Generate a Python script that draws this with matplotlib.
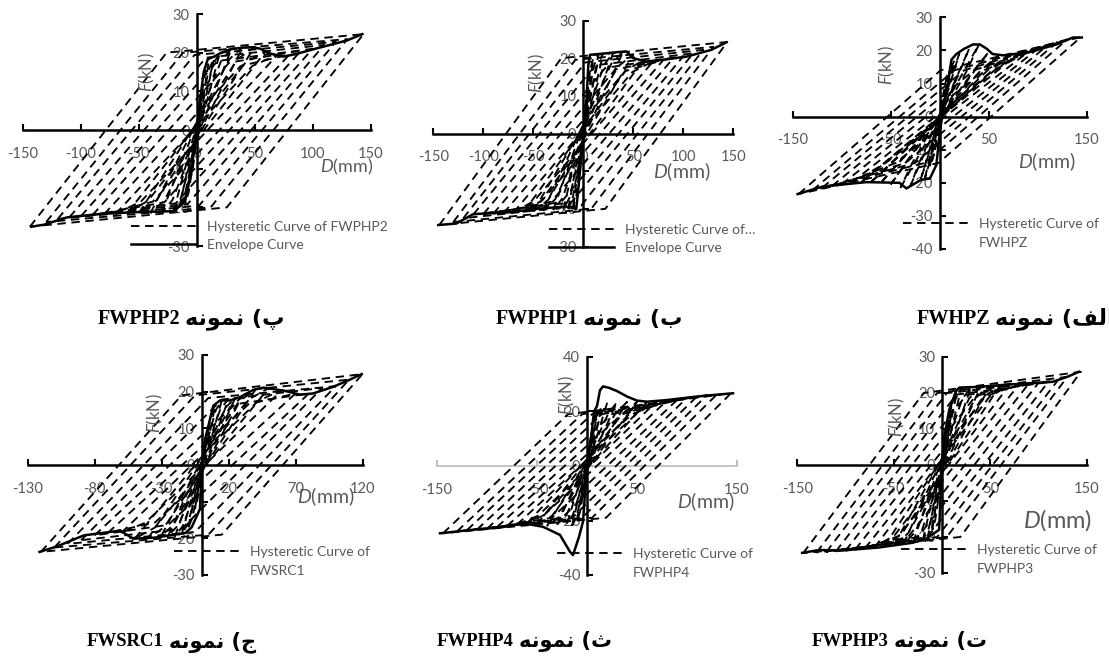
import matplotlib
matplotlib.use("Agg")
import matplotlib.pyplot as plt
from matplotlib.lines import Line2D

plt.rcParams['font.family'] = ['Lato', 'DejaVu Sans']
plt.rcParams['mathtext.fontset'] = 'custom'
plt.rcParams['mathtext.it'] = 'Lato:italic'
plt.rcParams['mathtext.rm'] = 'Lato'
plt.rcParams['axes.unicode_minus'] = False

W, H = 1109, 658
GRAY = "#595959"

# ---- datos (D en mm, F en kN) ----
# FWPHP2
fwphp2_env_d = [-143, -132, -112, -83, -50, -20, -12, -8, -4, 0, 3, 6, 9.5, 15, 20, 29, 40, 49, 55, 61, 67, 75, 85, 101, 115, 130, 143]
fwphp2_env_f = [-25, -24.5, -22.6, -21.7, -21.2, -21, -19, -16, -8, 0, 8, 15, 18.3, 19, 19.8, 20.9, 21.3, 21.4, 21, 20, 19.5, 19, 19.6, 20.9, 22, 23.2, 24.8]
fwphp2_amp = [5, 10, 15, 20, 30, 40, 50, 60, 70, 80, 90, 100, 110, 120, 130, 144]
fwphp2_fpos = [10, 17, 18.5, 20, 21, 21.5, 21.5, 20.5, 19.5, 19.5, 20.5, 21, 22, 22.8, 23.5, 24.8]
fwphp2_fneg = [12, 19, 20, 21, 21.3, 21.5, 21.5, 21.5, 21.7, 21.8, 22, 22.3, 22.6, 23, 23.8, 25]

# FWPHP1
fwphp1_env_d = [-145, -127, -110, -73, -47, -17, -7, -4, 0, 3, 5, 6.7, 20, 30, 43, 50, 63, 80, 103, 128, 143]
fwphp1_env_f = [-24.3, -23.9, -21.4, -20.9, -20, -19.4, -20, -12, 0, 8, 18, 20.9, 21.2, 21.5, 21.8, 20, 19.1, 19.6, 20.4, 22.2, 24.2]
fwphp1_amp = [5, 10, 15, 20, 30, 40, 50, 60, 70, 80, 90, 100, 110, 120, 130, 144]
fwphp1_fpos = [12, 20, 21, 21.3, 21.5, 21.8, 21, 19.5, 19.2, 19.5, 20, 20.5, 21.3, 22.2, 23, 24.3]
fwphp1_fneg = [12, 19.5, 20, 20.2, 20.3, 20.5, 20.7, 21, 21, 21.2, 21.3, 21.4, 21.5, 22.5, 23.5, 24.3]

# FWHPZ
fwhpz_env_d = [-145, -119, -75, -41, -34, -19, -10, -3.4, 0, 4, 8.5, 12, 17, 25, 34, 41, 48, 54, 65, 92, 119, 136, 145]
fwhpz_env_f = [-23.4, -21.1, -19.8, -20, -21.7, -19.1, -18.7, -14.6, -5, 3, 10, 17.2, 18.9, 20.5, 21.8, 21.8, 20.5, 18.9, 18.5, 19.5, 21.8, 23.9, 23.9]
fwhpz_amp = [5, 10, 15, 20, 30, 40, 50, 60, 70, 80, 90, 100, 110, 120, 130, 144]
fwhpz_fpos = [8, 14, 17, 19, 20.5, 21.8, 19.5, 18.5, 18.5, 19, 19.5, 20.5, 21.5, 22.5, 23.3, 24]
fwhpz_fneg = [10, 15, 18.5, 19.5, 21, 21.5, 20.5, 20, 19.8, 19.8, 20, 20.5, 21, 21.5, 22.3, 23.4]

# FWSRC1
fwsrc1_env_d = [-121, -108, -88, -61, -51, -35, -23.6, -12, -7.5, -1.3, 0, 2.5, 8.7, 13.7, 21, 28.6, 38.5, 46, 61, 73.4, 83, 98, 110.7, 119.4]
fwsrc1_env_f = [-23.7, -22.2, -19.2, -17.9, -20.1, -19.8, -19.2, -18.5, -17, -12, 0, 7, 16.2, 17.6, 17.6, 18.5, 20.5, 21.1, 20.3, 19.2, 19.5, 21.3, 23.3, 24.8]
fwsrc1_amp = [5, 10, 15, 20, 25, 30, 40, 50, 60, 70, 80, 90, 100, 110, 120]
fwsrc1_fpos = [9, 16, 17.6, 18, 18.3, 18.5, 20.5, 21, 20.5, 19.5, 19.5, 21, 21.5, 23.3, 24.8]
fwsrc1_fneg = [12, 17, 19, 19.5, 19.3, 19.2, 20, 20.1, 18.5, 18.5, 19.2, 20.5, 21.5, 22.5, 23.7]

# FWPHP4
fwphp4_env_d = [-147, -117, -84, -64, -44, -27, -17, -14, -8, -4, 0, 4, 7, 10, 13, 16, 22, 30, 40, 50, 60, 80, 110, 146]
fwphp4_env_f = [-24.7, -23.5, -22.4, -21, -22.3, -25.3, -31.5, -32.7, -26, -20.4, 0, 10, 20, 22, 27.8, 29.2, 28.7, 27.5, 25.5, 24, 23.6, 24.2, 25.5, 26.7]
fwphp4_amp = [5, 10, 15, 20, 30, 40, 50, 60, 70, 80, 90, 100, 110, 120, 130, 144]
fwphp4_fpos = [12, 20, 22, 23, 23.5, 23.5, 23.5, 23.5, 23.8, 24, 24.2, 25, 25.5, 26, 26.3, 26.7]
fwphp4_fneg = [12, 20, 22, 21, 21.5, 22, 21.5, 21, 21.5, 22, 22.4, 23, 23.3, 23.5, 24, 24.7]

# FWPHP3
fwphp3_env_d = [-145, -127, -106, -65, -30.5, -16.6, -3, 0, 2.4, 7.5, 14.5, 18, 38.6, 66, 114.6, 130, 142]
fwphp3_env_f = [-24.4, -23.6, -23.8, -22.9, -21.6, -20.5, -18, 0, 7.9, 15.3, 20.5, 21.5, 21.7, 22.3, 23.1, 24.5, 25.9]
fwphp3_amp = [5, 10, 15, 20, 30, 40, 50, 60, 70, 80, 90, 100, 110, 120, 130, 144]
fwphp3_fpos = [8, 15, 20.5, 21.5, 21.6, 21.7, 22, 22, 22.2, 22.4, 22.6, 22.8, 23, 23.5, 24.5, 25.9]
fwphp3_fneg = [10, 18, 20.5, 21, 21.5, 22, 22.3, 22.6, 22.9, 23.2, 23.5, 23.8, 24, 24.2, 24.3, 24.5]

# ancho de las ramas de descarga (mm) y fuerza en las esquinas del lazo (kN)
loop_span = {"FWPHP2": 118, "FWPHP1": 122, "FWHPZ": 145, "FWSRC1": 105, "FWPHP4": 125, "FWPHP3": 125}
loop_corner = {"FWPHP2": 20, "FWPHP1": 20, "FWHPZ": 14, "FWSRC1": 19, "FWPHP4": 19, "FWPHP3": 20}

# rotulos en persa (formas de presentacion, orden visual)
NOMUNE = "\uFEEA\uFEE7\uFEEE\uFEE4\uFEE7"
cap_letters = {"FWPHP2": "\uFB56", "FWPHP1": "\uFE8F", "FWHPZ": "\uFED2\uFEDF\uFE8D",
               "FWSRC1": "\uFE9D", "FWPHP4": "\uFE99", "FWPHP3": "\uFE95"}

# ---- disposicion en pixeles ----
panels = [
    dict(name="FWPHP2", d=fwphp2_env_d, f=fwphp2_env_f, amp=fwphp2_amp, fp=fwphp2_fpos, fn=fwphp2_fneg,
         box=(23, 370.5, 14, 246), xlim=(-150, 150), xt=[-150, -100, -50, 0, 50, 100, 150],
         ylim=(-30, 30), yt=[-30, -20, -10, 0, 10, 20, 30],
         leg=(207, 226), leg_two=True, leg_label="Hysteretic Curve of FWPHP2", second=None,
         flab=(147, 72), dlab=(320, 167, 13), cap=(180, 316, 14.5, 16)),
    dict(name="FWPHP1", d=fwphp1_env_d, f=fwphp1_env_f, amp=fwphp1_amp, fp=fwphp1_fpos, fn=fwphp1_fneg,
         box=(433.3, 733.3, 20.5, 246.5), xlim=(-150, 150), xt=[-150, -100, -50, 0, 50, 100, 150],
         ylim=(-30, 30), yt=[-30, -20, -10, 0, 10, 20, 30],
         leg=(625, 229), leg_two=True, leg_label="Hysteretic Curve of\u2026", second=None,
         flab=(537, 73), dlab=(653, 172, 14), cap=(578, 316, 14.5, 16)),
    dict(name="FWHPZ", d=fwhpz_env_d, f=fwhpz_env_f, amp=fwhpz_amp, fp=fwhpz_fpos, fn=fwhpz_fneg,
         box=(792.7, 1086.7, 17.3, 249), xlim=(-150, 150), xt=[-150, -50, 50, 150],
         ylim=(-40, 30), yt=[-40, -30, -20, -10, 0, 10, 20, 30],
         leg=(979, 223), leg_two=False, leg_label="Hysteretic Curve of", second="FWHPZ",
         flab=(887, 65), dlab=(1018, 162, 14), cap=(990, 316, 14.5, 16)),
    dict(name="FWSRC1", d=fwsrc1_env_d, f=fwsrc1_env_f, amp=fwsrc1_amp, fp=fwsrc1_fpos, fn=fwsrc1_fneg,
         box=(27.5, 362.5, 355, 575), xlim=(-130, 120), xt=[-130, -80, -30, 20, 70, 120],
         ylim=(-30, 30), yt=[-30, -20, -10, 0, 10, 20, 30],
         leg=(250, 551), leg_two=False, leg_label="Hysteretic Curve of", second="FWSRC1",
         flab=(155, 413), dlab=(297, 497, 14), cap=(164, 639, 13.5, 15)),
    dict(name="FWPHP4", d=fwphp4_env_d, f=fwphp4_env_f, amp=fwphp4_amp, fp=fwphp4_fpos, fn=fwphp4_fneg,
         box=(437, 737, 357, 575), xlim=(-150, 150), xt=[-150, -50, 50, 150],
         ylim=(-40, 40), yt=[-40, -20, 0, 20, 40],
         leg=(633, 553), leg_two=False, leg_label="Hysteretic Curve of", second="FWPHP4",
         flab=(567, 395), dlab=(677, 502, 14), cap=(514, 639, 13.5, 15)),
    dict(name="FWPHP3", d=fwphp3_env_d, f=fwphp3_env_f, amp=fwphp3_amp, fp=fwphp3_fpos, fn=fwphp3_fneg,
         box=(797.3, 1086.7, 357, 573), xlim=(-150, 150), xt=[-150, -50, 50, 150],
         ylim=(-30, 30), yt=[-30, -20, -10, 0, 10, 20, 30],
         leg=(977, 549), leg_two=False, leg_label="Hysteretic Curve of", second="FWPHP3",
         flab=(897, 417), dlab=(1023, 520, 17), cap=(889, 639, 13.5, 15)),
]

DASH = (0, (4.5, 3))

fig = plt.figure(figsize=(W / 100, H / 100), dpi=100)

for p in panels:
    x0, x1, yt, yb = p["box"]
    ax = fig.add_axes([x0 / W, 1 - yb / H, (x1 - x0) / W, (yb - yt) / H])
    ax.set_xlim(*p["xlim"])
    ax.set_ylim(*p["ylim"])
    ax.patch.set_visible(False)

    # lazos histereticos (discontinuos)
    span = loop_span[p["name"]]
    corner = loop_corner[p["name"]]
    for a, fp, fn in zip(p["amp"], p["fp"], p["fn"]):
        s = min(span, 1.7 * a)
        fu = min(corner, 0.85 * fp)
        fl = min(corner, 0.85 * fn)
        ax.plot([-a, -a + s, a, a - s, -a], [-fn, fu, fp, -fl, -fn],
                color="black", lw=1.35, ls=DASH, clip_on=False, zorder=3)
    # envolvente
    ax.plot(p["d"], p["f"], color="black", lw=1.8, clip_on=False, zorder=4,
            solid_joinstyle="round")

    # ejes en el origen
    for side in ["top", "right"]:
        ax.spines[side].set_visible(False)
    ax.spines["left"].set_position(("data", 0))
    ax.spines["bottom"].set_position(("data", 0))
    ax.spines["left"].set_linewidth(1.8)
    xcol = "#bfbfbf" if p["name"] == "FWPHP4" else "black"
    ax.spines["bottom"].set_linewidth(1.3 if p["name"] == "FWPHP4" else 1.8)
    ax.spines["bottom"].set_color(xcol)
    ax.set_xticks(p["xt"])
    ax.set_yticks(p["yt"])
    ax.tick_params(axis="x", direction="in", length=4, width=1.5, color=xcol,
                   pad=12, labelsize=10.5, labelcolor=GRAY)
    ax.tick_params(axis="y", direction="in", length=4, width=1.5,
                   pad=5, labelsize=10.5, labelcolor=GRAY)

    # leyenda
    h_dash = Line2D([], [], color="black", lw=1.35, ls=DASH)
    h_solid = Line2D([], [], color="black", lw=1.8)
    hx, hy = p["leg"]
    if p["leg_two"]:
        handles, labels = [h_dash, h_solid], [p["leg_label"], "Envelope Curve"]
    else:
        handles, labels = [h_dash], [p["leg_label"]]
    ax.legend(handles, labels, loc="upper left", bbox_to_anchor=((hx - 76) / W, 1 - (hy - 5) / H),
              bbox_transform=fig.transFigure, frameon=False, borderpad=0, borderaxespad=0,
              handlelength=4.7, handletextpad=0.75, labelspacing=0.45, fontsize=10,
              labelcolor=GRAY)
    if p["second"]:
        fig.text(hx / W, 1 - (hy + 20) / H, p["second"], fontsize=10, color=GRAY,
                 ha="left", va="center")

    # titulos de ejes
    fx, fy = p["flab"]
    fig.text(fx / W, 1 - fy / H, r"$\mathit{F}$(kN)", rotation=90, fontsize=12,
             color=GRAY, ha="center", va="center")
    dx, dy, ds = p["dlab"]
    fig.text(dx / W, 1 - dy / H, r"$\mathit{D}$(mm)", fontsize=ds, color=GRAY,
             ha="left", va="center")

    # rotulo: parte latina + parte persa
    sx, cy, s_lat, s_fa = p["cap"]
    fig.text(sx / W, 1 - cy / H, p["name"], fontsize=s_lat, fontweight="bold",
             family="Liberation Serif", ha="right", va="center_baseline", color="black")
    fig.text((sx + 5) / W, 1 - cy / H, NOMUNE + " (" + cap_letters[p["name"]],
             fontsize=s_fa, fontweight="bold", family="DejaVu Sans",
             ha="left", va="center_baseline", color="black")

fig.savefig("out.png", dpi=100)
